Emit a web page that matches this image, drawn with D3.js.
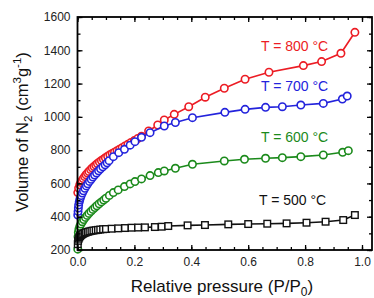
<!DOCTYPE html>
<html>
<head>
<meta charset="utf-8">
<script src="https://cdn.jsdelivr.net/npm/d3@7/dist/d3.min.js"></script>
<style>
  body { margin: 0; background: #fff; }
  svg { display: block; font-family: "Liberation Sans", Arial, sans-serif; }
</style>
</head>
<body>
<svg id="isoViz" width="374" height="298"></svg>
<script>
// N2 isotherms
const pressure800 = [0.001, 0.004, 0.008, 0.012, 0.016, 0.02, 0.025, 0.03, 0.035, 0.04, 0.046, 0.052, 0.058, 0.064, 0.07, 0.077, 0.084, 0.091, 0.098, 0.106, 0.114, 0.122, 0.13, 0.139, 0.148, 0.157, 0.167, 0.177, 0.188, 0.2, 0.212, 0.225, 0.25, 0.282, 0.305, 0.34, 0.391, 0.449, 0.516, 0.589, 0.673, 0.794, 0.858, 0.926, 0.975];
const volume800 = [545, 572, 592, 606, 618, 629, 641, 652, 662, 672, 683, 693, 702, 711, 720, 729, 738, 746, 754, 763, 772, 780, 788, 797, 806, 815, 825, 835, 846, 858, 870, 884, 915, 951, 981, 1015, 1061, 1118, 1172, 1226, 1268, 1308, 1332, 1382, 1508];

const pressure700 = [0.001, 0.002, 0.003, 0.004, 0.006, 0.008, 0.01, 0.013, 0.017, 0.021, 0.026, 0.031, 0.036, 0.042, 0.048, 0.054, 0.06, 0.067, 0.074, 0.081, 0.089, 0.097, 0.104, 0.111, 0.126, 0.145, 0.165, 0.185, 0.202, 0.225, 0.255, 0.305, 0.344, 0.404, 0.518, 0.589, 0.661, 0.72, 0.785, 0.864, 0.931, 0.948];
const volume700 = [410, 432, 452, 470, 488, 502, 514, 527, 542, 556, 571, 585, 598, 612, 625, 638, 650, 663, 676, 688, 700, 712, 724, 737, 761, 785, 805, 830, 851, 877, 905, 945, 966, 995, 1027, 1045, 1057, 1061, 1071, 1081, 1107, 1125];

const pressure600 = [0.001, 0.002, 0.003, 0.005, 0.008, 0.012, 0.017, 0.022, 0.028, 0.034, 0.04, 0.047, 0.054, 0.061, 0.068, 0.076, 0.084, 0.092, 0.1, 0.112, 0.126, 0.143, 0.165, 0.185, 0.202, 0.225, 0.255, 0.284, 0.305, 0.344, 0.404, 0.516, 0.587, 0.661, 0.72, 0.785, 0.864, 0.932, 0.952];
const volume600 = [205, 280, 305, 325, 342, 356, 370, 383, 396, 408, 420, 432, 444, 455, 466, 478, 489, 500, 511, 528, 545, 561, 581, 597, 611, 627, 647, 665, 675, 691, 715, 735, 745, 751, 755, 761, 771, 787, 797];

const pressure500 = [0.001, 0.002, 0.004, 0.006, 0.009, 0.012, 0.016, 0.02, 0.025, 0.03, 0.036, 0.042, 0.049, 0.056, 0.064, 0.072, 0.08, 0.09, 0.1, 0.12, 0.143, 0.167, 0.19, 0.213, 0.237, 0.272, 0.296, 0.319, 0.387, 0.448, 0.53, 0.6, 0.667, 0.735, 0.805, 0.872, 0.934, 0.975];
const volume500 = [235, 255, 268, 276, 283, 289, 294, 298, 302, 306, 309, 312, 315, 317, 319, 321, 323, 325, 326, 328, 330, 332, 334, 335, 336, 338, 340, 344, 348, 350, 354, 356, 358, 360, 364, 370, 380, 410];

const seriesLabels = ["T = 800 °C", "T = 700 °C", "T = 600 °C", "T = 500 °C"];
const seriesColors = ["#ec1c24", "#2323dc", "#1b8a1b", "#111111"];

const xTicks = [0, 0.2, 0.4, 0.6, 0.8, 1.0];
const yTicks = [200, 400, 600, 800, 1000, 1200, 1400, 1600];

const series = [
  { label: seriesLabels[0], color: seriesColors[0], shape: "circle", p: pressure800, v: volume800, lx: 261, ly: 51 },
  { label: seriesLabels[1], color: seriesColors[1], shape: "circle", p: pressure700, v: volume700, lx: 261, ly: 91 },
  { label: seriesLabels[2], color: seriesColors[2], shape: "circle", p: pressure600, v: volume600, lx: 261, ly: 142 },
  { label: seriesLabels[3], color: seriesColors[3], shape: "square", p: pressure500, v: volume500, lx: 259, ly: 205 },
];

const plotLeft = 77.5, plotRight = 372, plotTop = 17, plotBottom = 250;

const x = d3.scaleLinear().domain([0, 1]).range([plotLeft, 362]);
const y = d3.scaleLinear().domain([200, 1600]).range([plotBottom, plotTop]);

const svg = d3.select("#isoViz");
svg.append("rect").attr("width", 374).attr("height", 298).attr("fill", "#fff");

// series: lines then markers
series.forEach(function (s) {
  const pts = s.p.map(function (d, i) { return [d, s.v[i]]; });
  const g = svg.append("g");
  g.append("path")
    .datum(pts)
    .attr("fill", "none")
    .attr("stroke", s.color)
    .attr("stroke-width", 1.6)
    .attr("d", d3.line().x(function (d) { return x(d[0]); }).y(function (d) { return y(d[1]); }));

  if (s.shape === "circle") {
    g.selectAll("circle")
      .data(pts)
      .join("circle")
      .attr("cx", function (d) { return x(d[0]); })
      .attr("cy", function (d) { return y(d[1]); })
      .attr("r", 3.7)
      .attr("fill", "#fff")
      .attr("stroke", s.color)
      .attr("stroke-width", 1.6);
  } else {
    g.selectAll("rect")
      .data(pts)
      .join("rect")
      .attr("x", function (d) { return x(d[0]) - 3.3; })
      .attr("y", function (d) { return y(d[1]) - 3.3; })
      .attr("width", 6.6)
      .attr("height", 6.6)
      .attr("fill", "#fff")
      .attr("stroke", s.color)
      .attr("stroke-width", 1.4);
  }

  svg.append("text")
    .text(s.label)
    .attr("x", s.lx)
    .attr("y", s.ly)
    .attr("fill", s.color)
    .attr("font-size", 14);
});

// axes, ticks point inward on every side
const xMinor = d3.range(0, 1.04, 0.05);
const yMinor = d3.range(200, 1601, 100);

function styleAxis(g) {
  g.select(".domain").remove();
  g.selectAll("line").attr("stroke", "#000").attr("stroke-width", 1.3);
  g.selectAll("text").attr("font-size", 12).attr("fill", "#222");
}

svg.append("g").attr("transform", "translate(0," + plotBottom + ")")
  .call(d3.axisBottom(x).tickValues(xTicks).tickFormat(d3.format(".1f")).tickSize(-5).tickPadding(7))
  .call(styleAxis);
svg.append("g").attr("transform", "translate(0," + plotBottom + ")")
  .call(d3.axisBottom(x).tickValues(xMinor).tickFormat("").tickSize(-3))
  .call(styleAxis);
svg.append("g").attr("transform", "translate(0," + plotTop + ")")
  .call(d3.axisTop(x).tickValues(xTicks).tickFormat("").tickSize(-5))
  .call(styleAxis);
svg.append("g").attr("transform", "translate(0," + plotTop + ")")
  .call(d3.axisTop(x).tickValues(xMinor).tickFormat("").tickSize(-3))
  .call(styleAxis);

svg.append("g").attr("transform", "translate(" + plotLeft + ",0)")
  .call(d3.axisLeft(y).tickValues(yTicks).tickFormat(d3.format("d")).tickSize(-5).tickPadding(7))
  .call(styleAxis);
svg.append("g").attr("transform", "translate(" + plotLeft + ",0)")
  .call(d3.axisLeft(y).tickValues(yMinor).tickFormat("").tickSize(-3))
  .call(styleAxis);
svg.append("g").attr("transform", "translate(" + plotRight + ",0)")
  .call(d3.axisRight(y).tickValues(yTicks).tickFormat("").tickSize(-5))
  .call(styleAxis);
svg.append("g").attr("transform", "translate(" + plotRight + ",0)")
  .call(d3.axisRight(y).tickValues(yMinor).tickFormat("").tickSize(-3))
  .call(styleAxis);

svg.append("rect")
  .attr("x", plotLeft).attr("y", plotTop)
  .attr("width", plotRight - plotLeft).attr("height", plotBottom - plotTop)
  .attr("fill", "none").attr("stroke", "#000").attr("stroke-width", 1.8);

// axis titles
const xTitle = svg.append("text")
  .attr("x", 222).attr("y", 292)
  .attr("text-anchor", "middle")
  .attr("font-size", 17)
  .attr("fill", "#111");
xTitle.append("tspan").text("Relative pressure (P/P");
xTitle.append("tspan").text("0").attr("font-size", 12).attr("dy", 4);
xTitle.append("tspan").text(")").attr("dy", -4);

const yTitle = svg.append("text")
  .attr("transform", "translate(28,132) rotate(-90)")
  .attr("text-anchor", "middle")
  .attr("font-size", 16.5)
  .attr("fill", "#111");
yTitle.append("tspan").text("Volume of N");
yTitle.append("tspan").text("2").attr("font-size", 11.5).attr("dy", 4);
yTitle.append("tspan").text(" (cm").attr("dy", -4);
yTitle.append("tspan").text("3").attr("font-size", 11.5).attr("dy", -7);
yTitle.append("tspan").text("g").attr("dy", 7);
yTitle.append("tspan").text("-1").attr("font-size", 11.5).attr("dy", -7);
yTitle.append("tspan").text(")").attr("dy", 7);
</script>
</body>
</html>
